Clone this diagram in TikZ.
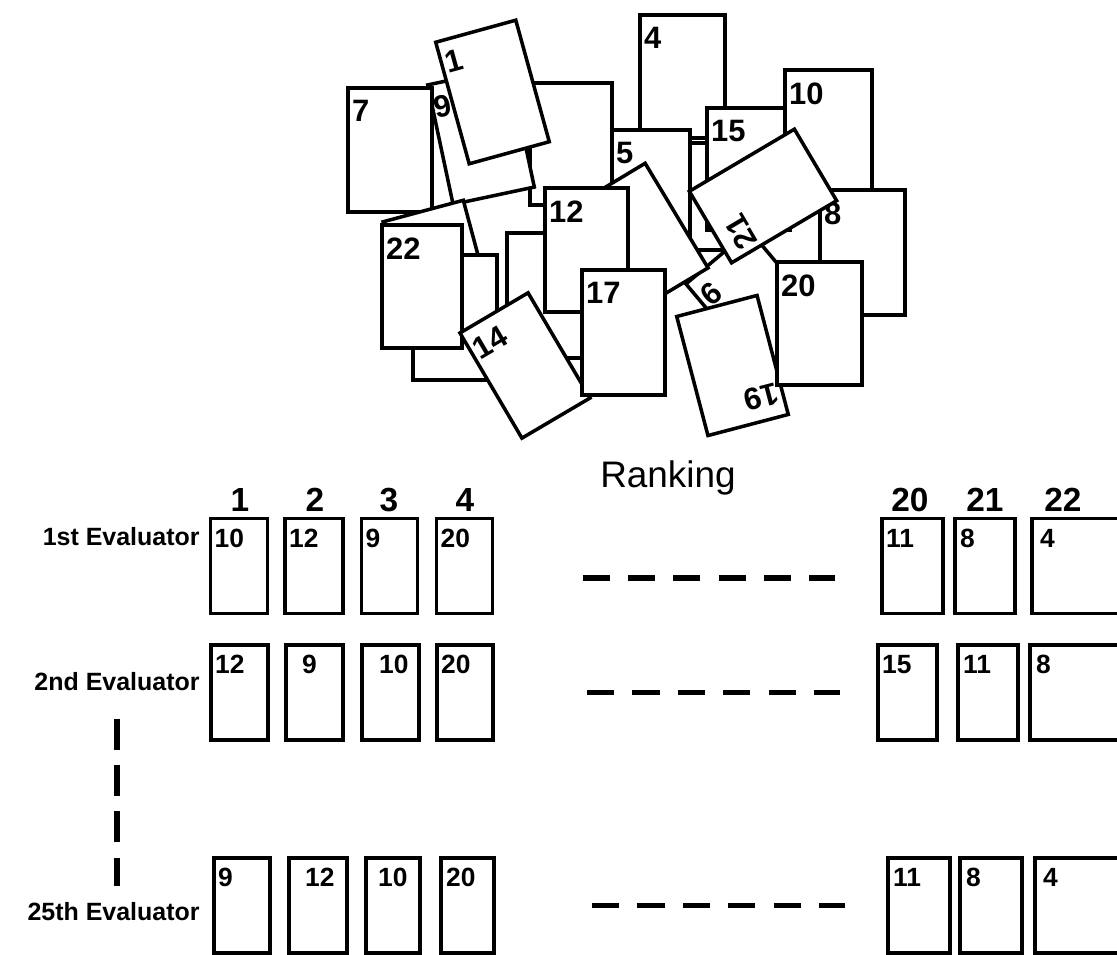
\documentclass[tikz,border=0pt]{standalone}
\usepackage{fontspec}
\setmainfont{Liberation Sans}
\usetikzlibrary{positioning}

\begin{document}
\begin{tikzpicture}[
  x=0.01cm, y=-0.01cm,
  pilecard/.style={draw, line width=1pt, fill=white, inner sep=0pt, outer sep=0pt, minimum width=0.83cm, minimum height=1.22cm},
  pilenum/.style={anchor=north west, inner xsep=1.2pt, inner ysep=3.6pt, outer sep=0pt, font=\bfseries\fontsize{8.8}{8.8}\selectfont},
  rankcard/.style={draw, line width=1pt, fill=white, inner sep=0pt, outer sep=0pt, minimum height=0.95cm},
  ranknum/.style={anchor=north west, inner xsep=1.2pt, inner ysep=3pt, outer sep=0pt, font=\bfseries\fontsize{7.5}{7.5}\selectfont},
  colnum/.style={font=\bfseries\fontsize{9.5}{9.5}\selectfont},
  evaluator/.style={anchor=east, font=\bfseries\fontsize{7.1}{7.1}\selectfont},
  skipline/.style={line width=1.5pt, dash pattern=on 7.7pt off 5.2pt},
  evalgap/.style={line width=1.5pt, dash pattern=on 8.8pt off 4.4pt}
]
\useasboundingbox (0,0) rectangle (1117,955);
\clip (0,0) rectangle (1117,955);

% Pile of cards, back to front
\node[pilecard, minimum width=0.85cm, minimum height=1.23cm] (p4) at (682.5,76.5) {};
\node[pilenum] at (p4.north west) {4};
\node[pilecard, minimum width=0.82cm, minimum height=1.07cm] (pS) at (711,196.5) {};
\node[pilecard, minimum width=0.82cm] (pA) at (571,144) {};
\node[pilecard, rotate=12] (p9) at (481,136) {};
\node[pilenum, rotate=12, inner xsep=0.6pt] at (p9.north west) {9};
\node[pilecard, minimum width=0.84cm, minimum height=1.24cm] (p7) at (390,150) {};
\node[pilenum] at (p7.north west) {7};
\node[pilecard, rotate=15.4, minimum height=1.26cm] (p1) at (492.5,92) {};
\node[pilenum, rotate=15.4] at (p1.north west) {1};
\node[pilecard, rotate=15] (pW) at (439,270) {};
\node[pilecard, minimum width=0.84cm, minimum height=1.25cm] (pT) at (455,317.5) {};
\node[pilecard, minimum height=1.25cm] (pV) at (548.5,295.5) {};
\node[pilecard, minimum width=0.80cm, minimum height=1.23cm] (p22) at (422,286.5) {};
\node[pilenum] at (p22.north west) {22};
\node[pilecard, minimum width=0.78cm] (p5) at (651,191) {};
\node[pilenum] at (p5.north west) {5};
\node[pilecard, rotate=40] (p6) at (757,304) {};
\node[pilenum, rotate=40] at (p6.north west) {6};
\node[pilecard, rotate=31] (pX) at (641,237) {};
\node[pilecard, minimum height=1.24cm] (p12) at (586.5,250) {};
\node[pilenum] at (p12.north west) {12};
\node[pilecard, rotate=30.5, minimum width=0.79cm] (p14) at (525,365.5) {};
\node[pilenum, rotate=30.5] at (p14.north west) {14};
\node[pilecard, minimum height=1.25cm] (p17) at (623.5,332.5) {};
\node[pilenum] at (p17.north west) {17};
\node[pilecard] (p15) at (748.5,169) {};
\node[pilenum] at (p15.north west) {15};
\node[pilecard, minimum width=0.87cm] (p10) at (828.5,131) {};
\node[pilenum] at (p10.north west) {10};
\node[pilecard, minimum width=0.85cm, minimum height=1.25cm] (p8) at (862.5,252.5) {};
\node[pilenum] at (p8.north west) {8};
\node[pilecard, rotate=120.6] (p21) at (763,196) {};
\node[pilenum, rotate=120.6] at (p21.north west) {21};
\node[pilecard, rotate=194.7, minimum height=1.23cm] (p19) at (732.5,365.5) {};
\node[pilenum, rotate=194.7] at (p19.north west) {19};
\node[pilecard, minimum width=0.85cm, minimum height=1.23cm] (p20) at (819.5,323.5) {};
\node[pilenum] at (p20.north west) {20};

% Ranking header
\node[font=\fontsize{10.5}{10.5}\selectfont] (ranking) at (668,478) {Ranking};
\foreach \c/\x/\t in {a/240/1, b/315/2, c/389/3, d/465/4, e/910/20, f/985/21, g/1063/22}
  \node[colnum] (n\c) at (\x,500) {\t};

% Evaluators
\node[evaluator] (ev1) at (212,537) {1st Evaluator};
\node[evaluator] (ev2) at (212,682) {2nd Evaluator};
\node[evaluator] (ev25) at (212,912) {25th Evaluator};

% Rankings
\foreach \c/\x/\t/\s/\w in {a/239/10/0/0.57, b/314/12/0/0.58, c/389.5/9/0/0.56, d/464.5/20/0/0.56, e/912.5/11/0/0.61, f/985/8/1/0.60, g/1080/4/4/0.96} {
  \node[rankcard, minimum width=\w cm] (r1\c) at (\x,566) {};
  \node[ranknum, xshift=\s*0.01cm] at (r1\c.north west) {\t};
}
\foreach \c/\x/\t/\s/\w in {a/239.5/12/0/0.57, b/314.5/9/12/0.57, c/390.5/10/13/0.57, d/465/20/0/0.56, e/907.5/15/0/0.59, f/988/11/1/0.60, g/1078/8/2/0.96} {
  \node[rankcard, minimum width=\w cm] (r2\c) at (\x,692.5) {};
  \node[ranknum, xshift=\s*0.01cm] at (r2\c.north west) {\t};
}
\foreach \c/\x/\t/\s/\w in {a/242/9/0/0.56, b/318/12/12/0.58, c/393/10/8/0.54, d/467.5/20/1/0.53, e/919/11/1/0.62, f/991/8/2/0.62, g/1083/4/4/0.96} {
  \node[rankcard, minimum width=\w cm] (r3\c) at (\x,905.5) {};
  \node[ranknum, xshift=\s*0.01cm] at (r3\c.north west) {\t};
}

% Gaps
\draw[skipline, shorten <=0.9cm, shorten >=0.47cm] ([yshift=-0.12cm]r1d.east) -- ([yshift=-0.12cm]r1e.west);
\draw[skipline, shorten <=0.94cm, shorten >=0.38cm] (r2d.east) -- (r2e.west);
\draw[skipline, shorten <=0.98cm, shorten >=0.43cm] (r3d.east) -- (r3e.west);
\draw[evalgap, shorten <=0.15cm, shorten >=0.04cm] (ev2.south) -- (ev2.south |- ev25.north);

\end{tikzpicture}
\end{document}
